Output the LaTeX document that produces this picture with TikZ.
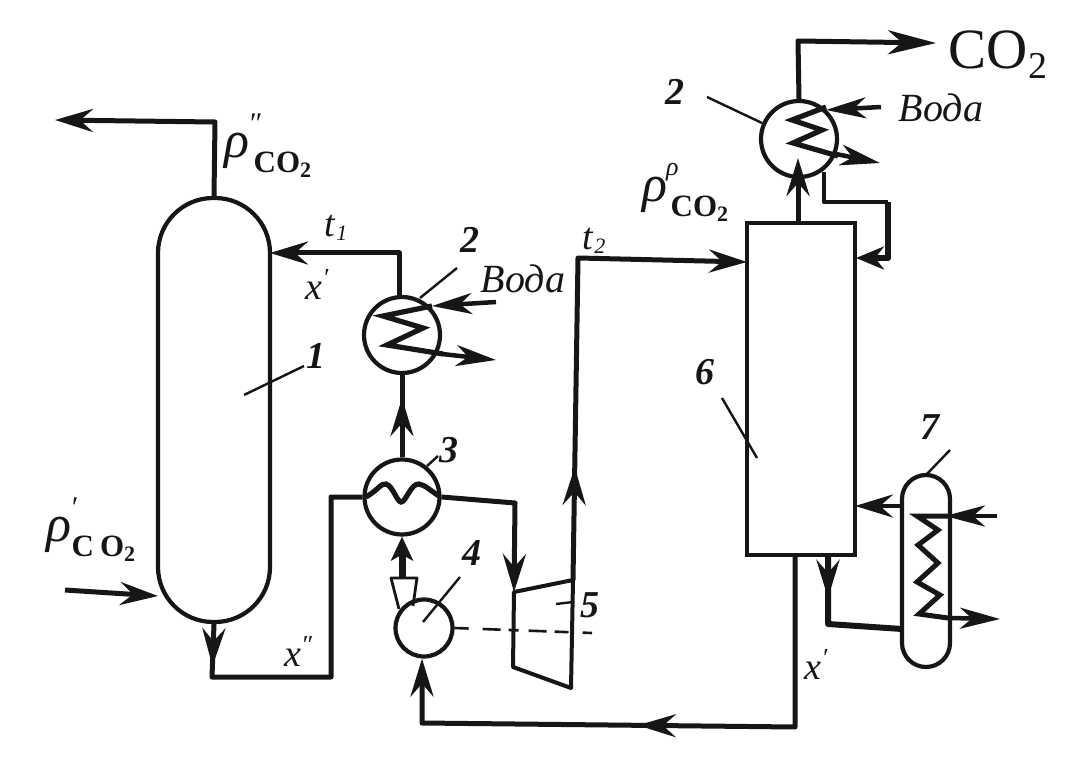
\documentclass[tikz,border=0pt]{standalone}
\usepackage{fontspec}
\setmainfont{Liberation Serif}
\usetikzlibrary{arrows.meta,decorations.markings}
\newcommand{\rhosub}[4]{\fontsize{52}{52}\selectfont\mdseries ρ\kern#4\raisebox{#2}{\fontsize{#3}{#3}\selectfont #1}}
\newcommand{\cosub}[2]{\raisebox{-15pt}{\upshape\bfseries\fontsize{31}{31}\selectfont C\kern#2 O\raisebox{-5pt}{\fontsize{22}{22}\selectfont 2}}}
\tikzset{
  shell/.style={draw=ink,line width=4.2pt,inner sep=0pt},
  hx/.style={shell,circle,minimum size=#1},
  vessel/.style={shell,rectangle,rounded corners=#1},
  pipe/.style={draw=ink,line width=5pt,line join=round},
  thinpipe/.style={draw=ink,line width=3.4pt,line join=round},
  waterpipe/.style={draw=ink,line width=4.5pt,line join=round},
  tip/.style={-{Stealth[length=38pt,width=23pt,inset=13pt]}},
  smalltip/.style={-{Stealth[length=40pt,width=21pt,inset=12pt]}},
  flow/.style={decoration={markings,mark=at position #1 with {\arrow{Stealth[length=38pt,width=23pt,inset=13pt]}}},postaction={decorate}},
  leader/.style={draw=ink,line width=2.4pt},
  coil/.style={draw=ink,line width=5.2pt,line join=miter},
  lab/.style={inner sep=0pt,font=\itshape\bfseries\fontsize{38}{38}\selectfont,text=ink},
  wat/.style={inner sep=0pt,font=\itshape\fontsize{40}{40}\selectfont,text=ink},
  sym/.style={inner sep=0pt,font=\itshape\fontsize{38}{38}\selectfont,text=ink},
}
\definecolor{ink}{HTML}{161616}
\begin{document}
\begin{tikzpicture}[x=1pt,y=-1pt]
\useasboundingbox (0,0) rectangle (1082,762);
\fill[white] (0,0) rectangle (1082,762);
% vessels
\node[vessel=55pt,minimum width=112pt,minimum height=424pt] (c1) at (214,410) {};
\node[hx=76pt] (h2a) at (402,335) {};
\node[hx=75pt] (h3) at (402,497) {};
\node[hx=57pt] (p4) at (424,628) {};
\node[hx=76pt] (h2b) at (799,139) {};
\node[shell,line width=4.4pt,minimum width=108pt,minimum height=332pt] (c6) at (801,389) {};
\node[vessel=24pt,minimum width=48pt,minimum height=192pt] (r7) at (926,571) {};
% turbine and nozzle
\coordinate (ta) at (514,592); \coordinate (tb) at (573,580);
\coordinate (tc) at (571,688); \coordinate (td) at (513,667);
\draw[thinpipe,line width=4pt] (ta) -- (tb) -- (tc) -- (td) -- cycle;
\coordinate (na) at (391,578); \coordinate (nb) at (417,578);
\coordinate (nc) at (413,606); \coordinate (nd) at (399,609);
\draw[thinpipe,line width=2.8pt] (nd) -- (na) -- (nb) -- (nc);
% pipes, left side
\coordinate (e1) at (215,122); \coordinate (e2) at (55,120);
\draw[pipe,tip] (c1.north) -- (e1) -- (e2);
\coordinate (e3) at (399,253); \coordinate (e4) at (270,253);
\draw[pipe,tip] (h2a.north -| e3) -- (e3) -- (e4);
\coordinate (e5) at (65,590); \coordinate (e6) at (158,596);
\draw[pipe,tip] (e5) -- (e6);
\coordinate (e7) at (212,677); \coordinate (e8) at (331,677); \coordinate (e9) at (331,497);
\draw[pipe,flow=.11] (c1.south) -- (e7) -- (e8) -- (e9) -- (h3.west);
\draw[pipe,flow=.72] (h3.north) -- (h2a.south);
\coordinate (e10) at (515,503);
\draw[pipe,tip] (h3.east) -- (e10) -- (ta);
\coordinate (n0) at (402,578);
\draw[pipe,line width=7pt,-{Stealth[length=24pt,width=22pt,inset=6pt]}] (n0) -- (h3.south);
\coordinate (e11) at (578,258); \coordinate (e12) at (747,262);
\draw[pipe,flow=.23,tip] (tb) -- (e11) -- (e12);
% pipes, right side
\coordinate (e13) at (798,158);
\draw[pipe,tip] (c6.north -| e13) -- (e13);
\coordinate (e14) at (798,41); \coordinate (e15) at (936,43);
\draw[pipe,-{Stealth[length=48pt,width=24pt,inset=14pt]}] (h2b.north) -- (e14) -- (e15);
\coordinate (e16) at (824,172); \coordinate (e17) at (824,202);
\coordinate (e18) at (888,202); \coordinate (e19) at (888,258); \coordinate (e20) at (856,258);
\draw[pipe,line width=4.4pt] (e16) -- (e17) -- (e18);
\draw[pipe,line width=6.5pt,-{Stealth[length=28pt,width=23pt,inset=9pt]}] (e18) -- (e19) -- (e20);
\coordinate (e21) at (795,555); \coordinate (e22) at (795,727); \coordinate (e23) at (422,723);
\draw[pipe,flow=.54,tip] (e21) -- (e22) -- (e23) -- (p4.south -| e23);
\coordinate (e24) at (902,506); \coordinate (e25) at (855,506);
\draw[pipe,line width=4.4pt,tip] (e24) -- (e25);
\coordinate (e26) at (828,555); \coordinate (e27) at (828,624); \coordinate (e28) at (902,629);
\draw[pipe,line width=6pt,flow=.3] (e26) -- (e27) -- (e28);
% exchanger coils and water lines
\draw[coil] (432,306) -- (383,316) -- (423,328) -- (387,345) -- (443,354);
\coordinate (w1) at (496,302); \coordinate (w2) at (432,306);
\draw[waterpipe,smalltip] (w1) -- (w2);
\coordinate (w3) at (442,354); \coordinate (w4) at (496,360);
\draw[waterpipe,smalltip] (w3) -- (w4);
\draw[coil] (366,497) .. controls (378,490) and (381,483) .. (386,484) .. controls (393,486) and (397,502) .. (401,502) .. controls (406,502) and (411,483) .. (419,484) .. controls (425,485) and (431,491) .. (439,496);
\draw[coil] (826,107) -- (792,120) -- (822,130) -- (793,143) -- (838,156);
\coordinate (w5) at (881,107); \coordinate (w6) at (826,110);
\draw[waterpipe,smalltip] (w5) -- (w6);
\coordinate (w7) at (836,154); \coordinate (w8) at (880,163);
\draw[waterpipe,smalltip] (w7) -- (w8);
\draw[coil,line width=5pt] (950,516) -- (917,516) -- (938,530) -- (918,545) -- (938,563) -- (917,582) -- (940,595) -- (919,614) -- (948,618);
\coordinate (w9) at (997,516); \coordinate (w10) at (945,516);
\draw[waterpipe,smalltip] (w9) -- (w10);
\coordinate (w11) at (948,618); \coordinate (w12) at (1000,619);
\draw[waterpipe,smalltip] (w11) -- (w12);
% shaft
\coordinate (s1) at (592,633);
\draw[draw=ink,line width=2.6pt,dash pattern=on 14pt off 14pt on 18pt off 8pt on 10pt off 10pt on 18pt off 8pt] (p4.east) -- (s1);
% leaders and labels
\node[lab] (n1) at (316,356) {1};
\coordinate (l1) at (244,395); \draw[leader] (l1) -- (304,366);
\node[lab] (n2a) at (470,240) {2};
\coordinate (l2) at (420,298); \draw[leader] (l2) -- (457,268);
\node[lab] (n3) at (449,450) {3};
\coordinate (l3) at (427,466); \draw[leader] (l3) -- (438,456);
\node[lab] (n4) at (472,553) {4};
\coordinate (l4) at (423,622); \coordinate (l4b) at (460,577); \draw[leader] (l4) -- (l4b);
\node[lab] (n5) at (590,605) {5};
\coordinate (l5) at (556,604); \coordinate (l5b) at (573,602); \draw[leader] (l5) -- (l5b);
\node[lab] (n6) at (705,372) {6};
\coordinate (l6) at (722,398); \coordinate (l6b) at (757,458); \draw[leader] (l6) -- (l6b);
\node[lab] (n7) at (930,427) {7};
\coordinate (l7) at (925,476); \coordinate (l7b) at (950,450); \draw[leader] (l7) -- (l7b);
\node[lab] (n2b) at (675,92) {2};
\coordinate (l8) at (707,97); \coordinate (l8b) at (762,123); \draw[leader] (l8) -- (l8b);
\node[wat] (wa) at (523,279) {Вода};
\node[wat] (wb) at (941,108) {Вода};
\node[inner sep=0pt,text=ink,font=\fontsize{57}{57}\selectfont] (co) at (998,55) {CO\raisebox{-10pt}{\fontsize{38}{38}\selectfont 2}};
\node[sym] (t1) at (336,228) {t\kern1pt\raisebox{-4pt}{\fontsize{22}{22}\selectfont 1}};
\node[sym] (t2) at (594,241) {t\kern1pt\raisebox{-4pt}{\fontsize{22}{22}\selectfont 2}};
\node[sym] (xa) at (317,284) {x\raisebox{13pt}{\fontsize{26}{26}\selectfont ′}};
\node[sym] (xb) at (298,651) {x\raisebox{13pt}{\fontsize{26}{26}\selectfont ″}};
\node[sym] (xc) at (816,664) {x\raisebox{13pt}{\fontsize{26}{26}\selectfont ′}};
\node[sym,anchor=west] (pa) at (224,146) {\rhosub{″}{24pt}{30}{-1pt}\kern-7pt\cosub{}{0pt}};
\node[sym,anchor=west] (pb) at (642,192) {\rhosub{ρ}{26pt}{26}{-1pt}\kern-8pt\cosub{}{0pt}};
\node[sym,anchor=west] (pc) at (46,530) {\rhosub{′}{24pt}{30}{-1pt}\kern-5pt\cosub{}{6pt}};
\end{tikzpicture}
\end{document}
